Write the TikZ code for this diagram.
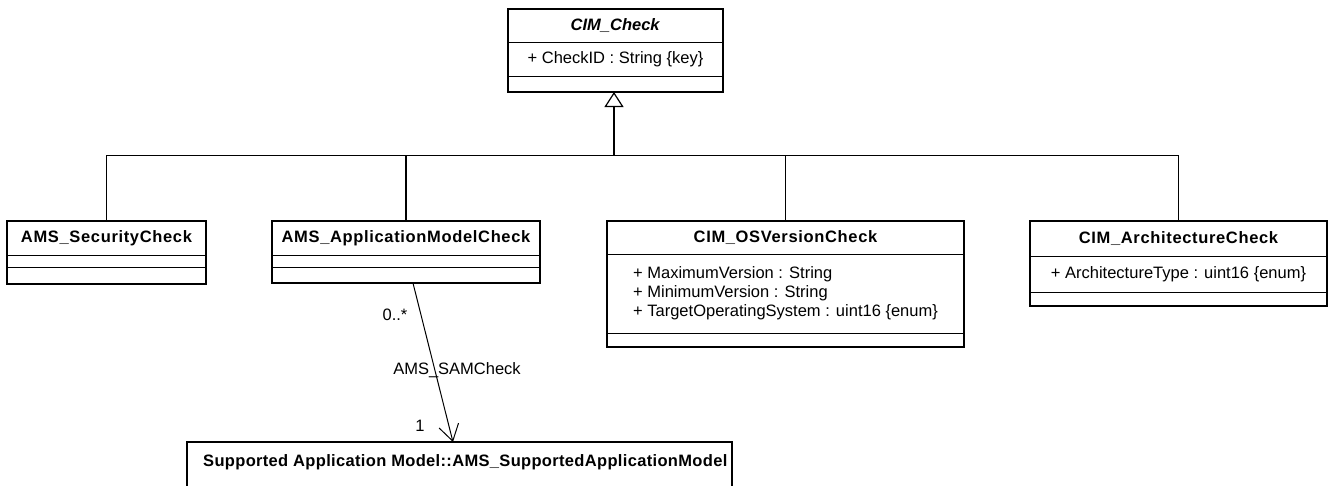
\documentclass[tikz,border=0pt]{standalone}
\usepackage{fontspec}
\setmainfont{Liberation Sans}[BoldFeatures = {LetterSpace = 4}]
\newfontfamily\samfont{Liberation Sans}[BoldFeatures = {LetterSpace = 2}]
\usetikzlibrary{arrows.meta,positioning,calc}
\newcommand{\umlsize}{\fontsize{16.5}{19}\selectfont}

\begin{document}
\begin{tikzpicture}
      [x = 1pt, y = -1pt,
      line/.style = {line width = 1.2pt},
      gen/.style = {line, -{Triangle[open, length = 15pt, width = 19pt]}},
      assoc/.style = {line width = 1pt, -{Straight Barb[length = 16pt, width = 20pt]}},
      outline/.style = {line width = 2pt},
      comp/.style = {
         draw,
         line width = 1pt,
         inner sep = 0pt,
         outer sep = 0pt,
         align = left,
         font = \umlsize
      },
      namebox/.style = {
         comp,
         anchor = north,
         font = \umlsize\bfseries
      },
      lbl/.style = {font = \umlsize}]

      \clip (0, 0) rectangle (1336, 485);

      % base class
      \node[namebox, minimum width = 215pt, minimum height = 33pt] (check) at (615.5, 9) {\textit{CIM\_Check}};
      \node[comp, below = 0pt of check, minimum width = 215pt, minimum height = 34pt] (checkAttr) {+ CheckID : String \{key\}};
      \node[comp, below = 0pt of checkAttr, minimum width = 215pt, minimum height = 16pt] (checkOps) {};
      \draw[outline] (check.north west) rectangle (checkOps.south east);

      % subclasses
      \node[namebox, minimum width = 199pt, minimum height = 34pt] (sec) at (106.5, 221) {AMS\_SecurityCheck};
      \node[comp, below = 0pt of sec, minimum width = 199pt, minimum height = 12pt] (secAttr) {};
      \node[comp, below = 0pt of secAttr, minimum width = 199pt, minimum height = 17pt] (secOps) {};
      \draw[outline] (sec.north west) rectangle (secOps.south east);

      \node[namebox, minimum width = 268pt, minimum height = 34pt] (am) at (406, 221) {AMS\_ApplicationModelCheck};
      \node[comp, below = 0pt of am, minimum width = 268pt, minimum height = 12pt] (amAttr) {};
      \node[comp, below = 0pt of amAttr, minimum width = 268pt, minimum height = 16pt] (amOps) {};
      \draw[outline] (am.north west) rectangle (amOps.south east);

      \node[namebox, minimum width = 357pt, minimum height = 33pt] (os) at (785.5, 221) {CIM\_OSVersionCheck};
      \node[comp, below = 0pt of os, minimum width = 357pt, minimum height = 79pt] (osAttr)
         {+ MaximumVersion : String\\+ MinimumVersion : String\\+ TargetOperatingSystem : uint16 \{enum\}};
      \node[comp, below = 0pt of osAttr, minimum width = 357pt, minimum height = 14pt] (osOps) {};
      \draw[outline] (os.north west) rectangle (osOps.south east);

      \node[namebox, minimum width = 297pt, minimum height = 35pt] (arch) at (1178.5, 221) {CIM\_ArchitectureCheck};
      \node[comp, below = 0pt of arch, minimum width = 297pt, minimum height = 36pt] (archAttr) {+ ArchitectureType : uint16 \{enum\}};
      \node[comp, below = 0pt of archAttr, minimum width = 297pt, minimum height = 14pt] (archOps) {};
      \draw[outline] (arch.north west) rectangle (archOps.south east);

      % referenced class, cut by the page edge
      \node[comp, anchor = north west, minimum width = 545pt, minimum height = 60pt] (sam) at (187, 442) {};
      \draw[outline] (sam.north west) rectangle (sam.south east);
      \node[anchor = west, inner sep = 0pt, font = \umlsize\samfont\bfseries] (samName)
         at ($(sam.north west) + (16, 20)$) {Supported Application Model::AMS\_SupportedApplicationModel};

      % inheritance tree
      \coordinate (bus) at (614, 155.5);
      \draw[line] (sec.north) -- (sec.north |- bus) -- (arch.north |- bus) -- (arch.north);
      \draw[line] (am.north) -- (am.north |- bus);
      \draw[line] (os.north) -- (os.north |- bus);
      \draw[gen] (bus) -- (bus |- checkOps.south);

      % association
      \coordinate (samFrom) at ($(amOps.south west)!0.526!(amOps.south east)$);
      \coordinate (samTo) at ($(sam.north west)!0.488!(sam.north east)$);
      \draw[assoc] (samFrom) -- (samTo);
      \node[lbl] (multMany) at (395, 315) {0..*};
      \node[lbl] (assocName) at (457, 370) {AMS\_SAMCheck};
      \node[lbl] (multOne) at (420, 426) {1};

   \end{tikzpicture}
\end{document}
